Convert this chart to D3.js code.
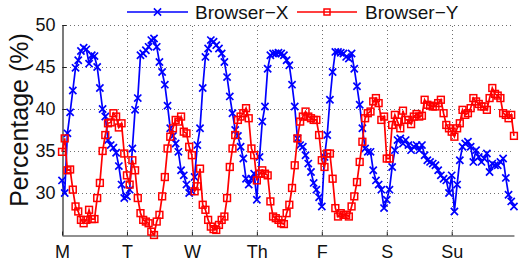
<!DOCTYPE html>
<html>
<head>
<meta charset="utf-8">
<script src="https://cdn.jsdelivr.net/npm/d3@7"></script>
<style>
  body { margin: 0; background: #fff; }
  svg { display: block; font-family: "Liberation Sans", Arial, sans-serif; }
</style>
</head>
<body>
<svg id="chart" width="519" height="267"></svg>
<script>
// day labels sit on every 24th hour
const dayLabels = ["M", "T", "W", "Th", "F", "S", "Su"];
const dayTicks = [0, 24, 48, 72, 96, 120, 144];
const yTicks = [30, 35, 40, 45, 50];
const seriesNames = ["Browser\u2212X", "Browser\u2212Y"];

// hourly share (%), Monday 0h .. Sunday 23h
const browserX = [
  31.5, 30, 37.1, 39.6, 42.2, 44.9, 45.8, 46.9, 47.3, 47.1, 45.4, 46.4, 46.3, 45, 42.5, 40, 39.1, 36.3, 35.7, 35.4, 34.8, 33.2, 31, 29.4,
  29.6, 30.4, 35.3, 39.9, 41.3, 46.4, 46.6, 47, 47.4, 48.2, 48.4, 47.4, 45.6, 44.4, 42.9, 40.4, 37.7, 36.8, 35.9, 34.9, 32.7, 32.1, 31, 30,
  30.2, 31.9, 35.7, 37.7, 42.5, 46.2, 47.2, 48.2, 48, 47.6, 47.2, 46.6, 45.6, 43.8, 41.5, 39.5, 37.5, 36.8, 35.5, 34.1, 31.7, 31, 31.7, 32.3,
  29.2, 34.3, 38.5, 40.3, 44.8, 46.4, 46.6, 46.6, 46.7, 46.6, 46.4, 45.8, 45.2, 42.9, 40.3, 36.5, 35.7, 35.5, 34.5, 33.5, 32.5, 31.2, 30.4, 29.5,
  28.4, 34.3, 36.9, 41.1, 44.4, 46.8, 46.8, 46.7, 46.6, 46.2, 46, 46.6, 44.8, 42.7, 40.5, 37.7, 35.3, 34.9, 34.9, 32.7, 31.5, 31, 30.4, 28.2,
  29.2, 30.4, 33.1, 35.1, 36.3, 36.5, 35.9, 36.3, 35.7, 35.1, 35.5, 35.7, 35.1, 35.7, 34.5, 33.9, 33.7, 33.5, 33.3, 32.7, 32.1, 31.7, 31.5, 30,
  32.1, 27.8, 31, 33.9, 35.5, 35.9, 36.1, 35.5, 33.7, 35.1, 34.3, 33.7, 34.1, 34.7, 32.5, 33.5, 33.3, 33.3, 33.7, 34.1, 31.8, 29.8, 29, 28.4
];
const browserY = [
  34.9, 36.5, 32.7, 32.8, 30.4, 28.4, 27.8, 26.8, 26.4, 26.8, 28, 26.9, 26.9, 29.4, 31.2, 35, 36.9, 38.3, 38.4, 39.5, 39.1, 37.8, 38.3, 34.7,
  32.1, 31, 33.9, 32.7, 29.4, 27.6, 26.8, 26.6, 26.4, 25.4, 25, 26.6, 27.4, 29.6, 31.9, 35.3, 36.7, 37.7, 38.7, 38.5, 39.1, 37.3, 37.1, 35.5,
  34.5, 30.2, 30.8, 32.9, 28.6, 28, 26.8, 26, 25.7, 25.6, 26.2, 26.8, 27.2, 29.4, 33.1, 35.3, 36.9, 38.7, 39.1, 39.5, 40.1, 38.9, 35.3, 34.5,
  31.5, 32.3, 32.7, 32.3, 32.1, 29, 27.2, 27, 26.8, 26.4, 26.3, 27.6, 28.6, 30.6, 33.3, 36.5, 38.5, 39.1, 39.7, 39.1, 38.9, 38.7, 38.7, 36.9,
  33.9, 33.1, 34.7, 34.7, 31.7, 28.2, 27.2, 27.6, 27.4, 27.4, 27.2, 28.4, 29.6, 31.3, 33.7, 36.1, 38.9, 39.5, 39.7, 40.9, 41.3, 40.7, 38.7, 39.1,
  34.1, 34.1, 38.1, 39.3, 38.5, 37.7, 39.8, 38.7, 38.7, 38.2, 39.1, 39.4, 39.1, 39.2, 41.1, 40.5, 40.4, 40.3, 40.3, 40.7, 41.1, 39.5, 38.1, 37.7,
  37.3, 36.7, 37.7, 38.3, 39.9, 39.3, 39.5, 40.1, 41.3, 40.9, 40.6, 40.3, 40.3, 39.9, 41.3, 42.5, 41.8, 41.6, 41.3, 39.5, 39.3, 38.9, 39.3, 36.8
];

const svg = d3.select("#chart");
const plotLeft = 62, plotTop = 25, plotBottom = 235;
const dayWidth = 64.95;

const x = d3.scaleLinear().domain([0, browserX.length - 1]).range([plotLeft, plotLeft + (browserX.length - 1) * dayWidth / 24]);
const y = d3.scaleLinear().domain([25, 50]).range([plotBottom, plotTop]);

// dotted grid
const grid = svg.append("g")
    .attr("stroke", "#333")
    .attr("stroke-width", 1)
    .attr("stroke-dasharray", "1,3")
    .attr("opacity", 0.7);
grid.selectAll(".gy").data(yTicks).enter().append("line")
    .attr("x1", x.range()[0]).attr("x2", x.range()[1])
    .attr("y1", d => y(d) + 0.5).attr("y2", d => y(d) + 0.5);
grid.selectAll(".gx").data(dayTicks.slice(1)).enter().append("line")
    .attr("x1", d => Math.round(x(d)) + 0.5).attr("x2", d => Math.round(x(d)) + 0.5)
    .attr("y1", y(25)).attr("y2", y(50));

// axes
svg.append("g")
    .attr("transform", `translate(${plotLeft + 0.5},0)`)
    .call(d3.axisLeft(y).tickValues(yTicks).tickSize(-4).tickSizeOuter(0).tickPadding(7));
svg.append("g")
    .attr("transform", `translate(0,${plotBottom + 0.5})`)
    .call(d3.axisBottom(x).tickValues(dayTicks).tickFormat((d, i) => dayLabels[i])
        .tickSize(-4).tickSizeOuter(0).tickPadding(10));

svg.selectAll(".domain").attr("stroke", "#222").attr("stroke-width", 1.2);
svg.selectAll(".tick line").attr("stroke", "#222");
svg.selectAll(".tick text")
    .attr("fill", "#111")
    .style("font-family", "'Liberation Sans', Arial, sans-serif")
    .style("font-size", "18px");

// y label
svg.append("text")
    .attr("transform", "translate(28,120) rotate(-90)")
    .attr("text-anchor", "middle")
    .attr("fill", "#111")
    .style("font-size", "25px")
    .text("Percentage (%)");

const line = d3.line().x((d, i) => x(i)).y(d => y(d));

function drawCross(sel, r) {
    sel.append("path").attr("d", `M${-r},${-r}L${r},${r}M${-r},${r}L${r},${-r}`);
}

// Browser-X
svg.append("path")
    .datum(browserX)
    .attr("fill", "none")
    .attr("stroke", "#0000ff")
    .attr("stroke-width", 1.7)
    .attr("d", line);
const xMarks = svg.append("g")
    .attr("stroke", "#0000ff")
    .attr("stroke-width", 1.7)
    .selectAll("g")
    .data(browserX).enter().append("g")
    .attr("transform", (d, i) => `translate(${x(i)},${y(d)})`);
drawCross(xMarks, 3.6);

// Browser-Y
svg.append("path")
    .datum(browserY)
    .attr("fill", "none")
    .attr("stroke", "#ff0000")
    .attr("stroke-width", 1.7)
    .attr("d", line);
svg.append("g")
    .attr("fill", "none")
    .attr("stroke", "#ff0000")
    .attr("stroke-width", 1.5)
    .selectAll("rect")
    .data(browserY).enter().append("rect")
    .attr("x", (d, i) => x(i) - 3.4)
    .attr("y", d => y(d) - 3.4)
    .attr("width", 6.8)
    .attr("height", 6.8);

// legend
const legend = svg.append("g").attr("transform", "translate(0,12)");
const legendItems = [
    {name: seriesNames[0], color: "#0000ff", x0: 127, x1: 188, tx: 195},
    {name: seriesNames[1], color: "#ff0000", x0: 297, x1: 357, tx: 365}
];
legendItems.forEach((it, k) => {
    legend.append("line")
        .attr("x1", it.x0).attr("x2", it.x1).attr("y1", 0).attr("y2", 0)
        .attr("stroke", it.color).attr("stroke-width", 1.7);
    const m = legend.append("g")
        .attr("transform", `translate(${(it.x0 + it.x1) / 2},0)`)
        .attr("stroke", it.color).attr("stroke-width", 1.5).attr("fill", "none");
    if (k === 0) drawCross(m, 3.6);
    else m.append("rect").attr("x", -3).attr("y", -3).attr("width", 6).attr("height", 6);
    legend.append("text")
        .attr("x", it.tx).attr("y", 0).attr("dy", "0.36em")
        .attr("fill", "#111")
        .style("font-size", "19px")
        .text(it.name);
});
</script>
</body>
</html>
